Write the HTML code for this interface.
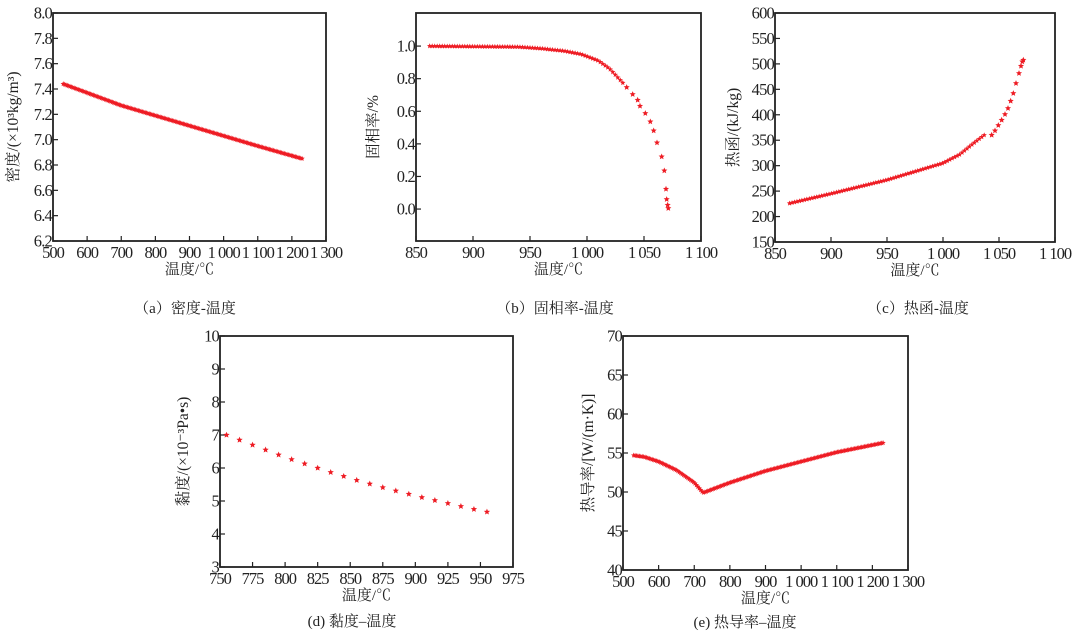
<!DOCTYPE html>
<html><head><meta charset="utf-8"><style>
html,body{margin:0;padding:0;background:#fff;}
svg{display:block;}
text{font-family:"Liberation Serif","Noto Serif CJK SC",serif;fill:#222;}
</style></head><body>
<svg id="s" width="1080" height="639" viewBox="0 0 1080 639" xmlns="http://www.w3.org/2000/svg"></svg>
<script>
const S=document.getElementById('s');const NS='http://www.w3.org/2000/svg';
function el(t,a,txt){const e=document.createElementNS(NS,t);for(const k in a)e.setAttribute(k,a[k]);if(txt!=null)e.textContent=txt;S.appendChild(e);return e;}
function star(x,y,r){let p='';for(let i=0;i<10;i++){const rr=i%2?r*0.45:r;const a=-Math.PI/2+i*Math.PI/5;p+=(i?'L':'M')+(x+rr*Math.cos(a)).toFixed(2)+' '+(y+rr*Math.sin(a)).toFixed(2);}el('path',{d:p+'Z',fill:'#ee1c24'});}
function interp(pts,x){for(let i=0;i<pts.length-1;i++){if(x<=pts[i+1][0]){const t=(x-pts[i][0])/(pts[i+1][0]-pts[i][0]);return pts[i][1]+t*(pts[i+1][1]-pts[i][1]);}}return pts[pts.length-1][1];}
function panel(o){
  const X=v=>o.x0+(v-o.xmin)/(o.xmax-o.xmin)*(o.x1-o.x0);
  const Y=v=>o.y1-(v-o.ymin)/(o.ymax-o.ymin)*(o.y1-o.y0);
  o.X=X;o.Y=Y;
  el('rect',{x:o.x0,y:o.y0,width:o.x1-o.x0,height:o.y1-o.y0,fill:'none',stroke:'#222','stroke-width':1.8});
  o.xt.forEach(([v,l])=>{const x=X(v);el('line',{x1:x,x2:x,y1:o.y1,y2:o.y1-5,stroke:'#222','stroke-width':1.2});el('text',{x:x,y:o.y1+17,'text-anchor':'middle','font-size':16.5,'letter-spacing':'-1'},l);});
  o.yt.forEach(([v,l])=>{const y=Y(v);el('line',{x1:o.x0,x2:o.x0+5,y1:y,y2:y,stroke:'#222','stroke-width':1.2});el('text',{x:o.x0-1,y:y+5.5,'text-anchor':'end','font-size':16.5,'letter-spacing':'-0.8'},l);});
  el('text',{x:(o.x0+o.x1)/2,y:o.y1+33,'text-anchor':'middle','font-size':15},'温度/℃');
  const cy=(o.y0+o.y1)/2;
  el('text',{x:o.ylx,y:cy,'text-anchor':'middle','font-size':15.5,transform:`rotate(-90 ${o.ylx} ${cy})`},o.yl);
  el('text',{x:o.capx,y:o.capy,'text-anchor':'middle','font-size':15},o.cap);
  return o;
}
let a=panel({x0:53,x1:326,y0:13,y1:241,xmin:500,xmax:1300,ymin:6.2,ymax:8.0,
 xt:[500,600,700,800,900,1000,1100,1200,1300].map(v=>[v,v>=1000?(''+v)[0]+' '+(''+v).slice(1):''+v]),
 yt:[6.2,6.4,6.6,6.8,7.0,7.2,7.4,7.6,7.8,8.0].map(v=>[v,v.toFixed(1)]),yl:'密度/(×10³kg/m³)',ylx:18,cap:'（a）密度-温度',capx:185,capy:313});
let pa=[[530,7.44],[600,7.37],[700,7.27],[800,7.19],[900,7.11],[1000,7.03],[1100,6.95],[1230,6.85]];
for(let T=530;T<=1230;T+=4)star(a.X(T),a.Y(interp(pa,T)),2.8);
let b=panel({x0:416,x1:701,y0:13,y1:241,xmin:850,xmax:1100,ymin:-0.196,ymax:1.203,
 xt:[[850,'850'],[900,'900'],[950,'950'],[1000,'1 000'],[1050,'1 050'],[1100,'1 100']],
 yt:[0,0.2,0.4,0.6,0.8,1.0].map(v=>[v,v.toFixed(1)]),yl:'固相率/%',ylx:378,cap:'（b）固相率-温度',capx:555,capy:313});
let pb=[[862,1.0],[940,0.995],[960,0.985],[980,0.97],[995,0.95],[1010,0.91],[1020,0.86],[1028,0.8],[1032,0.77]];
for(let T=862;T<=1032;T+=2.2)star(b.X(T),b.Y(interp(pb,T)),2.8);
[[800,262],[818,283],[833,300],[840,318],[856,340],[871,365],[881,392],[891,428],[905,470],[913,512],[918,567],[920,598],[923,615],[925,625]].forEach(([zx,zy])=>star(360+zx/3,zy/3,3.2));
let c=panel({x0:775,x1:1055,y0:13,y1:242,xmin:850,xmax:1100,ymin:150,ymax:600,
 xt:[[850,'850'],[900,'900'],[950,'950'],[1000,'1 000'],[1050,'1 050'],[1100,'1 100']],
 yt:[150,200,250,300,350,400,450,500,550,600].map(v=>[v,''+v]),yl:'热函/(kJ/kg)',ylx:738,cap:'（c）热函-温度',capx:918,capy:313});
let pc=[[863,226],[900,245],[950,272],[1000,305],[1015,322],[1025,340],[1032,352],[1038,362]];
for(let T=863;T<=1038;T+=2.2)star(c.X(T),c.Y(interp(pc,T)),2.8);
[[815,405],[825,392],[835,376],[845,360],[855,343],[864,325],[872,303],[880,280],[888,250],[897,220],[903,198],[907,185],[910,180]].forEach(([zx,zy])=>star(720+zx/3,zy/3,3.2));
let d=panel({x0:220,x1:513,y0:336,y1:567,xmin:750,xmax:975,ymin:3,ymax:10,
 xt:[750,775,800,825,850,875,900,925,950,975].map(v=>[v,''+v]),
 yt:[3,4,5,6,7,8,9,10].map(v=>[v,''+v]),yl:'黏度/(×10⁻³Pa•s)',ylx:188,cap:'(d) 黏度–温度',capx:352,capy:626});
[7.0,6.85,6.7,6.55,6.4,6.26,6.13,6.0,5.87,5.75,5.63,5.52,5.41,5.31,5.21,5.11,5.02,4.93,4.84,4.75,4.67].forEach((v,i)=>star(d.X(755+10*i),d.Y(v),3.3));
let e=panel({x0:623,x1:908,y0:336,y1:570,xmin:500,xmax:1300,ymin:40,ymax:70,
 xt:[500,600,700,800,900,1000,1100,1200,1300].map(v=>[v,v>=1000?(''+v)[0]+' '+(''+v).slice(1):''+v]),
 yt:[40,45,50,55,60,65,70].map(v=>[v,''+v]),yl:'热导率/[W/(m·K)]',ylx:593,cap:'(e) 热导率–温度',capx:745,capy:627});
let pe=[[530,54.7],[560,54.5],[600,53.9],[650,52.8],[700,51.2],[725,49.9],[800,51.2],[900,52.7],[1000,53.9],[1100,55.1],[1230,56.3]];
for(let T=530;T<=1230;T+=4)star(e.X(T),e.Y(interp(pe,T)),2.8);
</script>
</body></html>
